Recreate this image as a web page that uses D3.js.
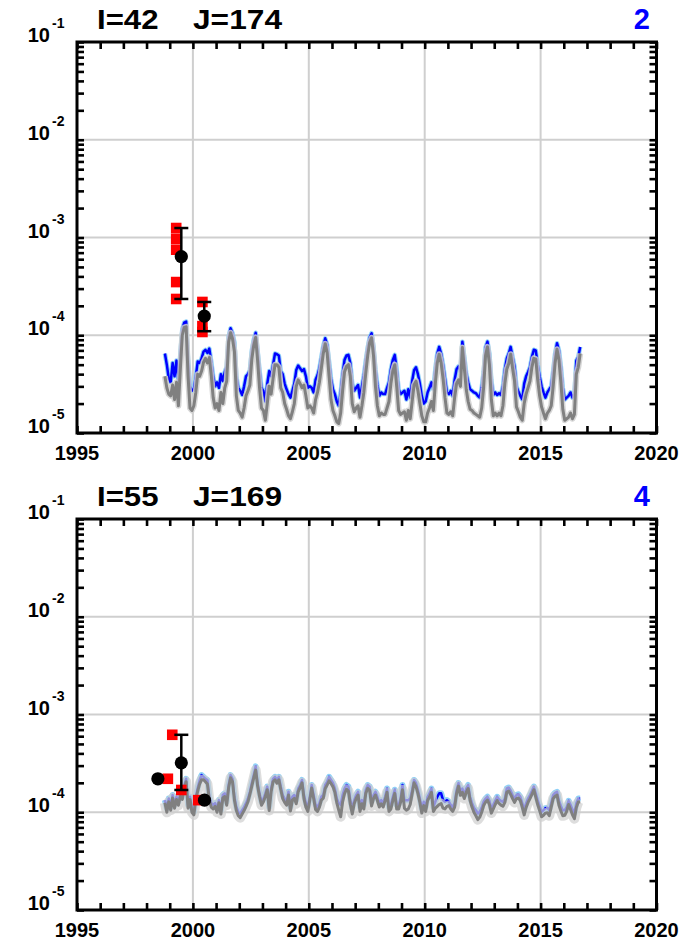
<!DOCTYPE html>
<html>
<head>
<meta charset="utf-8">
<script src="https://cdn.jsdelivr.net/npm/d3@7"></script>
<style>
  body { margin: 0; background: #fff; }
  svg { display: block; }
  text { font-family: "Liberation Sans", Arial, sans-serif; font-weight: bold; }
</style>
</head>
<body>
<svg id="chart" width="697" height="942"></svg>
<script>
// monthly series, first point mid-October 1998, values in units of 1e-5
const START = 1998 + 9.5 / 12;
const UNIT = 1e-5;

const blueTop = [
  6.5, 5.0, 3.6,
  3.3, 5.2, 3.8, 5.5, 3.4, 6.5, 11.5, 13.5, 13.8, 5.6, 3.0, 2.7,
  2.8, 3.8, 5.4, 5.2, 5.8, 6.8, 7.1, 6.6, 7.3, 5.4, 3.8, 3.0,
  3.3, 2.9, 4.0, 3.4, 4.2, 4.8, 9.7, 11.8, 10.5, 8.5, 3.8, 2.9,
  2.7, 2.45, 3.0, 3.8, 4.0, 4.4, 7.0, 9.0, 10.6, 7.0, 4.4, 2.9,
  2.7, 2.1, 3.2, 4.3, 3.8, 5.0, 6.5, 6.4, 6.2, 4.3, 4.0, 3.2,
  2.8, 2.5, 2.3, 2.7, 3.2, 4.4, 4.9, 4.6, 4.3, 4.5, 3.8, 2.9,
  3.0, 2.9, 2.6, 3.5, 3.9, 4.6, 6.0, 7.8, 9.3, 8.0, 5.4, 3.6,
  2.8, 2.5, 2.1, 1.9, 2.6, 4.0, 5.6, 6.2, 6.3, 5.2, 3.2, 2.7,
  2.9, 3.1, 2.3, 3.0, 3.9, 5.5, 7.5, 9.5, 10.5, 7.6, 4.5, 3.1,
  2.4, 2.6, 2.5, 2.5, 2.9, 3.3, 4.5, 5.6, 6.3, 4.5, 2.8, 2.5,
  2.6, 2.7, 2.2, 2.8, 2.3, 3.4, 4.4, 4.7, 4.0, 3.2, 2.4, 2.0,
  2.1, 2.6, 2.9, 3.3, 2.8, 4.5, 6.5, 7.6, 6.5, 5.0, 3.6, 2.6,
  2.5, 2.7, 2.4, 3.5, 4.5, 4.8, 4.3, 8.6, 6.0, 4.1, 3.3, 2.8,
  2.7, 2.6, 2.55, 2.4, 2.3, 2.9, 4.2, 7.5, 8.6, 6.5, 3.5, 2.45,
  2.6, 2.45, 2.55, 2.45, 3.0, 4.5, 5.8, 6.5, 7.6, 6.0, 4.8, 3.0,
  2.65, 2.4, 2.2, 3.2, 3.8, 4.2, 4.7, 6.0, 7.1, 7.0, 5.0, 3.8,
  3.0, 2.6, 2.3, 2.6, 2.8, 3.0, 4.3, 6.5, 8.3, 7.0, 4.8, 2.9,
  2.2, 2.3, 2.4, 2.6, 2.3, 2.5, 5.5, 6.0, 7.6
];

const greyTop = [
  3.8, 2.9, 2.5,
  2.4, 3.1, 2.2, 3.3, 1.9, 4.5, 10.0, 12.0, 12.2, 3.8, 1.8, 1.7,
  1.9, 2.6, 4.0, 3.8, 4.3, 5.3, 5.8, 5.2, 5.9, 3.9, 2.3, 1.8,
  2.0, 1.7, 2.6, 2.0, 2.9, 3.4, 8.5, 10.6, 9.2, 6.8, 2.4, 1.7,
  1.6, 1.45, 1.8, 2.4, 2.7, 3.1, 5.7, 7.9, 9.5, 5.5, 2.9, 1.8,
  1.7, 1.35, 2.0, 3.0, 2.5, 3.6, 5.0, 5.0, 4.7, 2.9, 2.6, 2.0,
  1.75, 1.5, 1.4, 1.65, 2.0, 3.0, 3.5, 3.2, 2.9, 3.1, 2.4, 1.8,
  1.9, 1.8, 1.6, 2.2, 2.6, 3.3, 4.6, 6.5, 8.2, 6.6, 3.8, 2.2,
  1.7, 1.5, 1.3, 1.25, 1.6, 2.7, 4.2, 4.8, 5.0, 3.8, 2.0, 1.65,
  1.8, 1.9, 1.45, 1.9, 2.6, 4.1, 6.2, 8.4, 9.4, 6.2, 3.0, 1.9,
  1.5, 1.6, 1.55, 1.55, 1.8, 2.1, 3.2, 4.3, 5.0, 3.0, 1.7, 1.55,
  1.6, 1.65, 1.35, 1.7, 1.4, 2.1, 3.1, 3.4, 2.7, 2.0, 1.5, 1.3,
  1.3, 1.6, 1.8, 2.1, 1.7, 3.2, 5.2, 6.4, 5.2, 3.6, 2.3, 1.6,
  1.55, 1.65, 1.5, 2.3, 3.2, 3.5, 3.0, 7.5, 4.6, 2.8, 2.1, 1.75,
  1.7, 1.6, 1.55, 1.5, 1.45, 1.8, 2.9, 6.2, 7.6, 5.0, 2.2, 1.5,
  1.6, 1.5, 1.6, 1.5, 1.9, 3.2, 4.5, 5.1, 6.4, 4.6, 3.4, 1.85,
  1.65, 1.45, 1.35, 2.0, 2.5, 2.9, 3.4, 4.7, 5.8, 5.7, 3.5, 2.4,
  1.85, 1.6, 1.4, 1.6, 1.7, 1.9, 3.0, 5.2, 7.2, 5.6, 3.3, 1.75,
  1.35, 1.4, 1.45, 1.6, 1.4, 1.55, 4.0, 4.7, 6.5
];

const blueBot = [
  13.3, 10.9, 13.8,
  11.3, 15, 11.9, 14.4, 12.8, 15.6, 14.4, 19, 22, 11.9, 14.4, 10.9,
  10.1, 14.4, 17.8, 21.4, 24, 23, 22, 21.4, 14.4, 12.4, 11.9, 12.4,
  10.9, 13.3, 10.5, 15, 15.6, 12.8, 19, 24, 22, 14.4, 11.3, 10.1,
  9.7, 10.5, 11.3, 12.4, 13.8, 16.2, 19.9, 24, 29.5, 19.9, 15.6, 12.8,
  13.8, 15.6, 18.3, 11.3, 17.5, 22, 23, 21.4, 23, 18.3, 15, 13.8,
  12.8, 16.2, 11.3, 14.4, 15, 13.3, 17.5, 19, 21.4, 15, 12.4, 11.3,
  14.4, 19, 15, 11.9, 11.3, 12.4, 14.4, 15, 19, 20.5, 23, 21.4,
  19.9, 17.5, 13.8, 12.4, 11.9, 15, 17.5, 19, 18.3, 13.3, 10.9, 13.3,
  15, 16.2, 11.3, 13.3, 11.9, 16.9, 19, 18.3, 12.8, 15, 16.2, 14.4,
  12.4, 13.3, 12.4, 14.4, 17.5, 11.3, 11.9, 14.4, 17, 11.9, 11.9, 13.8,
  19, 13.3, 13.3, 13.3, 13.8, 16.9, 21.4, 19.9, 16.9, 13.8, 10.9, 12.8,
  11.3, 14.4, 15.6, 17.5, 11.3, 12.8, 14.4, 15.6, 15.6, 13.3, 12.8, 13.3,
  12.8, 11.9, 11.3, 12.4, 16.9, 19.9, 16.2, 17.5, 15, 17.5, 19, 14.4,
  12.4, 11.1, 10.5, 9.7, 10.1, 11.1, 12.8, 13.8, 14.4, 13.1, 10.9, 11.9,
  13.1, 14.4, 13.5, 13.1, 12.8, 13.8, 17.5, 17.9, 16.6, 15, 13.8, 15,
  15.3, 14.4, 12.5, 10.7, 12.4, 13.8, 15, 16.5, 18.3, 15.6, 13.3, 11.6,
  10.1, 10.5, 11, 11.1, 10.5, 12.5, 15, 15.8, 16.2, 13.1, 11.6, 10.5,
  10.5, 11.3, 13.1, 11.9, 10.7, 9.8, 12.4, 13.8, 13.8
];

const greyBot = [
  12.5, 10.0, 12.8,
  10.5, 14.0, 11.0, 13.5, 11.8, 14.5, 13.5, 17.5, 20.5, 11.0, 13.5, 10.0,
  9.4, 13.5, 16.5, 19.5, 21.5, 21.5, 20.5, 19.5, 13.3, 11.3, 10.8, 11.5,
  10.0, 12.5, 9.6, 14.0, 14.5, 11.8, 17.8, 22.5, 20.5, 13.3, 10.4, 9.2,
  8.8, 9.6, 10.4, 11.5, 12.8, 15.2, 18.5, 22.5, 27.0, 18.5, 14.5, 11.8,
  12.8, 14.5, 17.0, 10.4, 16.2, 20.5, 21.5, 19.8, 21.5, 17.0, 13.8, 12.6,
  11.8, 15.0, 10.3, 13.3, 13.9, 12.2, 16.2, 17.8, 20.0, 13.8, 11.3, 10.2,
  13.3, 17.7, 13.8, 10.7, 10.2, 11.3, 13.3, 13.9, 17.5, 19.0, 21.0, 19.7,
  18.3, 16.0, 12.5, 10.5, 9.0, 12.8, 15.5, 17.2, 16.5, 12.0, 9.6, 12.2,
  13.8, 15.0, 10.2, 12.2, 10.8, 15.6, 17.6, 16.8, 11.6, 13.8, 15.0, 13.2,
  11.3, 12.2, 11.3, 13.2, 16.0, 10.2, 10.8, 13.2, 15.6, 10.8, 10.8, 12.6,
  17.0, 11.0, 10.5, 10.8, 12.0, 15.5, 20.0, 18.3, 15.5, 12.6, 9.8, 11.7,
  10.2, 13.2, 14.3, 16.0, 10.2, 11.0, 11.5, 12.0, 12.3, 11.0, 10.8, 11.5,
  11.7, 10.8, 10.2, 11.3, 15.5, 18.5, 14.9, 16.0, 13.8, 16.0, 17.5, 13.2,
  11.3, 10.0, 9.2, 8.4, 8.9, 10.0, 11.7, 12.7, 13.3, 12.0, 9.8, 10.8,
  12.0, 13.2, 12.3, 11.8, 11.5, 12.6, 16.0, 16.5, 15.2, 13.8, 12.6, 13.8,
  14.0, 13.2, 11.3, 9.4, 11.2, 12.6, 13.8, 15.2, 17.0, 14.3, 12.0, 10.4,
  9.0, 9.3, 9.8, 9.9, 9.2, 11.3, 13.8, 14.6, 15.0, 11.8, 10.3, 9.2,
  9.3, 10.2, 12.0, 10.7, 9.4, 8.6, 11.2, 12.7, 12.8
];

// observations (red squares) and their means with range (black dots)
const squaresTopYear = [1999.28, 1999.28, 1999.28, 1999.28, 1999.28, 2000.41, 2000.41, 2000.41];
const squaresTopValue = [1.25e-3, 9.7e-4, 7.5e-4, 3.5e-4, 2.35e-4, 2.19e-4, 1.24e-4, 1.08e-4];
const dotsTopYear = [1999.5, 2000.49];
const dotsTopValue = [6.37e-4, 1.57e-4];
const dotsTopLow = [2.35e-4, 1.1e-4];
const dotsTopHigh = [1.25e-3, 2.19e-4];

const squaresBotYear = [1999.11, 1998.92, 1999.5, 2000.23];
const squaresBotValue = [6.2e-4, 2.2e-4, 1.69e-4, 1.33e-4];
const dotsBotYear = [1998.49, 1999.5, 2000.5];
const dotsBotValue = [2.2e-4, 3.2e-4, 1.33e-4];
const dotsBotLow = [null, 1.69e-4, null];
const dotsBotHigh = [null, 6.2e-4, null];

const xLabels = [1995, 2000, 2005, 2010, 2015, 2020];
const xGrid = [2000, 2005, 2010, 2015];
const yExponents = [-1, -2, -3, -4, -5];
const yGrid = [1e-2, 1e-3, 1e-4];

const panels = [
  { top: 42, bottom: 433, ij: ["I=42", "J=174"], tag: "2",
    blue: blueTop, grey: greyTop, blueBand: 4.5, greyBand: 6, greyOpacity: 0.85,
    sqYear: squaresTopYear, sqValue: squaresTopValue,
    dotYear: dotsTopYear, dotValue: dotsTopValue, dotLow: dotsTopLow, dotHigh: dotsTopHigh },
  { top: 519, bottom: 910, ij: ["I=55", "J=169"], tag: "4",
    blue: blueBot, grey: greyBot, blueBand: 6, greyBand: 10, greyOpacity: 0.7,
    sqYear: squaresBotYear, sqValue: squaresBotValue,
    dotYear: dotsBotYear, dotValue: dotsBotValue, dotLow: dotsBotLow, dotHigh: dotsBotHigh }
];

const svg = d3.select("#chart");
const left = 77, right = 656.5;
const x = d3.scaleLinear().domain([1995, 2020]).range([left, right]);

panels.forEach(p => {
  const y = d3.scaleLog().domain([1e-5, 1e-1]).range([p.bottom, p.top]);
  const g = svg.append("g");

  // grid
  g.selectAll(".gx").data(xGrid).join("line")
    .attr("x1", d => x(d)).attr("x2", d => x(d))
    .attr("y1", p.top).attr("y2", p.bottom)
    .attr("stroke", "#cfcfcf").attr("stroke-width", 2);
  g.selectAll(".gy").data(yGrid).join("line")
    .attr("x1", left).attr("x2", right)
    .attr("y1", d => y(d)).attr("y2", d => y(d))
    .attr("stroke", "#cfcfcf").attr("stroke-width", 2);

  const line = d3.line()
    .x((d, i) => x(START + i / 12))
    .y(d => y(d * UNIT));

  // bands then lines
  g.append("path").datum(p.blue).attr("d", line)
    .attr("fill", "none").attr("stroke", "#8fd0f7")
    .attr("stroke-width", p.blueBand).attr("stroke-linejoin", "round");
  g.append("path").datum(p.blue).attr("d", line)
    .attr("fill", "none").attr("stroke", "#0000ff")
    .attr("stroke-width", 2.5).attr("stroke-linejoin", "round");
  g.append("path").datum(p.grey).attr("d", line)
    .attr("fill", "none").attr("stroke", "#cfcfcf").attr("stroke-opacity", p.greyOpacity)
    .attr("stroke-width", p.greyBand).attr("stroke-linejoin", "round");
  g.append("path").datum(p.grey).attr("d", line)
    .attr("fill", "none").attr("stroke", "#808080")
    .attr("stroke-width", 3).attr("stroke-linejoin", "round");

  // squares
  g.selectAll(".sq").data(p.sqYear).join("rect")
    .attr("x", d => x(d) - 5.3)
    .attr("y", (d, i) => y(p.sqValue[i]) - 5.3)
    .attr("width", 10.6).attr("height", 10.6)
    .attr("fill", "#ff0000");

  // error bars
  p.dotYear.forEach((d, i) => {
    if (p.dotLow[i] == null) return;
    const cx = x(d);
    g.append("line").attr("x1", cx).attr("x2", cx)
      .attr("y1", y(p.dotLow[i])).attr("y2", y(p.dotHigh[i]))
      .attr("stroke", "#000").attr("stroke-width", 2.5);
    [p.dotLow[i], p.dotHigh[i]].forEach(v => {
      g.append("line").attr("x1", cx - 7).attr("x2", cx + 7)
        .attr("y1", y(v)).attr("y2", y(v))
        .attr("stroke", "#000").attr("stroke-width", 2.5);
    });
  });
  g.selectAll(".dot").data(p.dotYear).join("circle")
    .attr("cx", d => x(d))
    .attr("cy", (d, i) => y(p.dotValue[i]))
    .attr("r", 6.6).attr("fill", "#000");

  // axes, ticks pointing inward
  const xTicks = d3.range(1995, 2021);
  const yTicks = y.ticks();
  const strip = a => a.call(s => s.select(".domain").remove())
    .call(s => s.selectAll(".tick line").attr("stroke-width", 2.6));
  g.append("g").attr("transform", `translate(0,${p.bottom})`)
    .call(d3.axisBottom(x).tickValues(xTicks).tickSize(-7).tickFormat("")).call(strip);
  g.append("g").attr("transform", `translate(0,${p.top})`)
    .call(d3.axisTop(x).tickValues(xTicks).tickSize(-7).tickFormat("")).call(strip);
  g.append("g").attr("transform", `translate(${left},0)`)
    .call(d3.axisLeft(y).tickValues(yTicks).tickSize(-7).tickFormat("")).call(strip);
  g.append("g").attr("transform", `translate(${right},0)`)
    .call(d3.axisRight(y).tickValues(yTicks).tickSize(-7).tickFormat("")).call(strip);

  g.append("rect")
    .attr("x", left).attr("y", p.top)
    .attr("width", right - left).attr("height", p.bottom - p.top)
    .attr("fill", "none").attr("stroke", "#000").attr("stroke-width", 3);

  // tick labels
  g.selectAll(".xl").data(xLabels).join("text")
    .attr("x", d => x(d)).attr("y", p.bottom + 27)
    .attr("text-anchor", "middle").attr("font-size", 20)
    .text(d => d);
  yExponents.forEach(e => {
    const yy = y(Math.pow(10, e));
    g.append("text").attr("x", 50).attr("y", yy)
      .attr("text-anchor", "end").attr("font-size", 20).text("10");
    g.append("text").attr("x", 52).attr("y", yy - 14)
      .attr("font-size", 14).text(e);
  });

  // titles
  g.append("text").attr("x", 97).attr("y", p.top - 13)
    .attr("font-size", 28).attr("textLength", 61.5).attr("lengthAdjust", "spacingAndGlyphs")
    .text(p.ij[0]);
  g.append("text").attr("x", 193).attr("y", p.top - 13)
    .attr("font-size", 28).attr("textLength", 89).attr("lengthAdjust", "spacingAndGlyphs")
    .text(p.ij[1]);
  g.append("text").attr("x", 650).attr("y", p.top - 13)
    .attr("text-anchor", "end").attr("font-size", 29).attr("fill", "#0000ff")
    .text(p.tag);
});
</script>
</body>
</html>
